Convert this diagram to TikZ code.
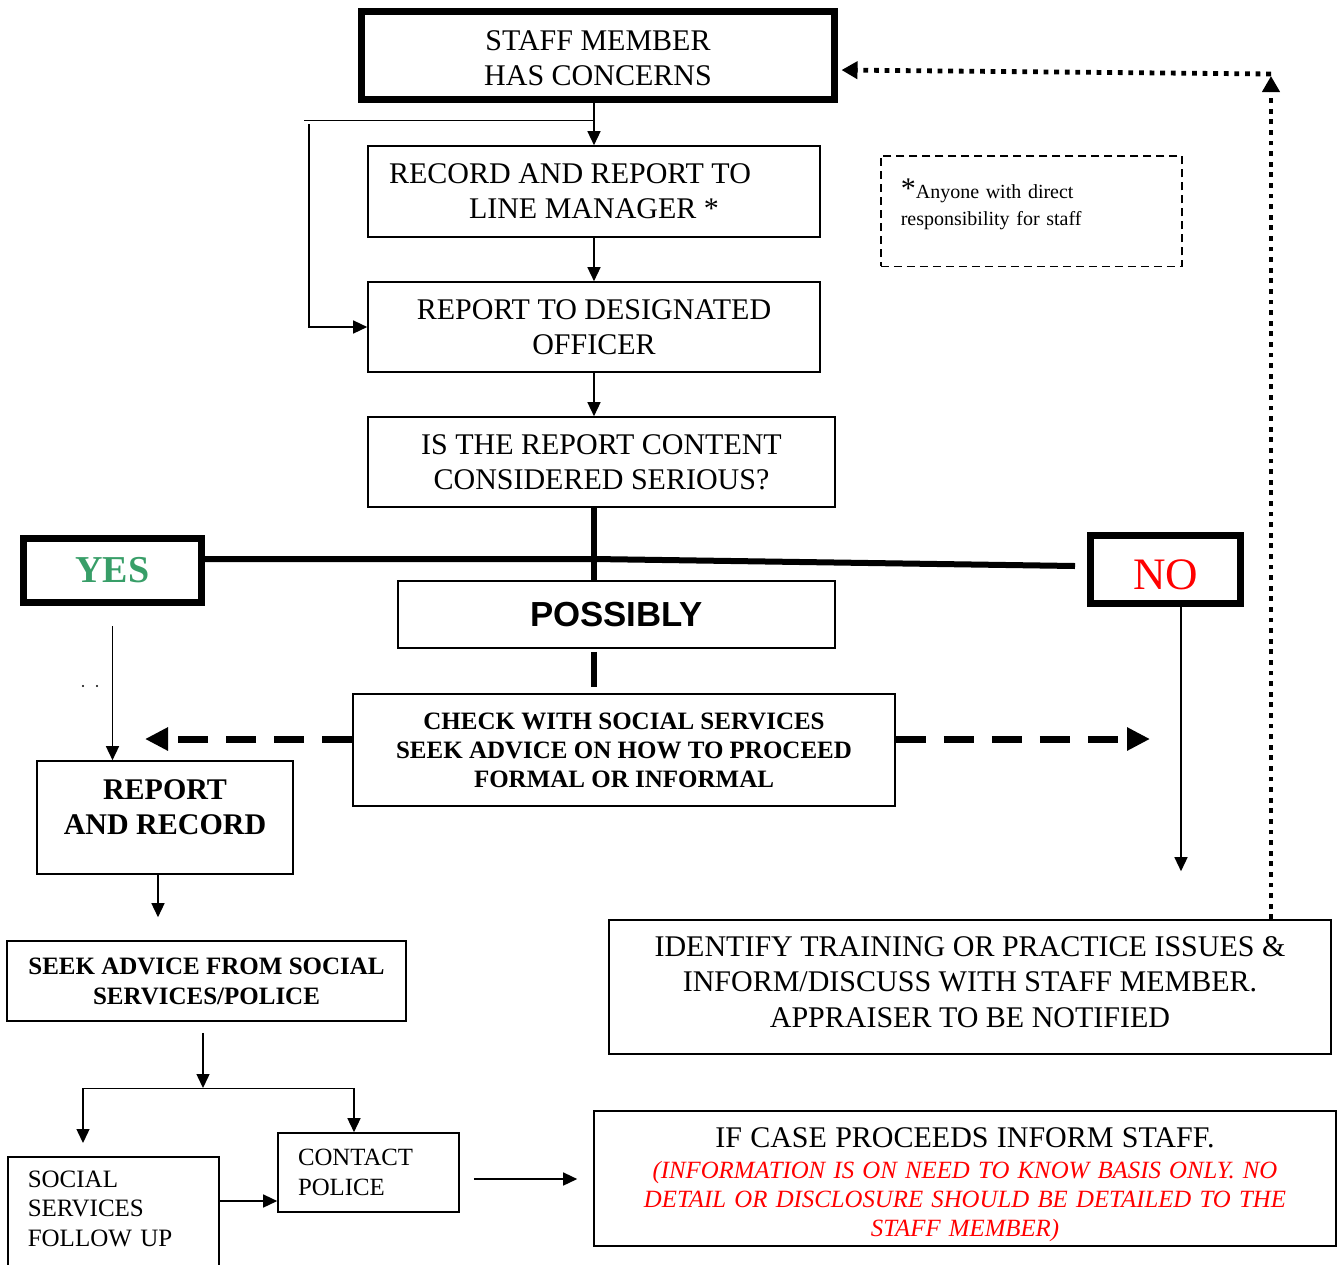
\documentclass[tikz,border=0pt]{standalone}
\usepackage{fontspec}
\setmainfont{Liberation Serif}
\newfontfamily\possfont{Liberation Sans}
\usetikzlibrary{arrows.meta}
\definecolor{yesgreen}{RGB}{56,158,104}

\begin{document}
\begin{tikzpicture}[x=0.5pt, y=-0.5pt,
    boxstyle/.style={draw, line width=0.8pt, align=center, inner sep=0pt, font=\fontsize{15}{17.5}\selectfont},
    boldbox/.style={boxstyle, font=\fontsize{12.5}{14.5}\selectfont\bfseries},
    heavybox/.style={draw, line width=3.5pt, align=center, inner sep=0pt},
    arrowstyle/.style={line width=0.7pt, -{Triangle[length=7pt,width=6.5pt]}},
    thickline/.style={line width=3pt},
    dashedarrow/.style={line width=3.5pt, dash pattern=on 15pt off 9pt, -{Triangle[length=11.5pt,width=11pt]}},
    dottedarrow/.style={line width=2.4pt, dash pattern=on 2.4pt off 2.9pt, -{Triangle[length=8pt,width=8.5pt]}}]
    \useasboundingbox (0,0) rectangle (1338,1264);

    % Boxes down the middle
    \node[heavybox, minimum width=236.5pt, minimum height=44pt, font=\fontsize{15}{17.5}\selectfont] (staff) at (598,55.5) {\rule{0pt}{13pt}STAFF MEMBER\\HAS CONCERNS};
    \node[boxstyle, minimum width=226pt, minimum height=45.5pt] (record) at (594,191.5) {RECORD AND REPORT TO\kern24pt\\LINE MANAGER *};
    \node[boxstyle, minimum width=226pt, minimum height=45pt] (officer) at (594,327) {REPORT TO DESIGNATED\\OFFICER};
    \node[boxstyle, minimum width=233.5pt, minimum height=45pt] (serious) at (601.5,462) {IS THE REPORT CONTENT\\CONSIDERED SERIOUS?};
    \node[boxstyle, minimum width=218.5pt, minimum height=33.5pt, font=\possfont\fontsize{17.4}{20}\selectfont\bfseries] (possibly) at (616.5,614.5) {POSSIBLY};
    \node[boldbox, minimum width=271pt, minimum height=56pt] (check) at (624,750) {CHECK WITH SOCIAL SERVICES\\SEEK ADVICE ON HOW TO PROCEED\\FORMAL OR INFORMAL};

    % Answers
    \node[heavybox, minimum width=89pt, minimum height=32pt, text=yesgreen, font=\fontsize{19}{22}\selectfont\bfseries] (yes) at (112.5,570.5) {YES};
    \node[heavybox, minimum width=75pt, minimum height=34pt, text=red, font=\fontsize{22.5}{26}\selectfont] (no) at (1165.5,569.5) {\rule{0pt}{20pt}NO};

    % Note
    \node[draw, line width=0.8pt, dash pattern=on 4pt off 2.5pt, anchor=north west, text width=130.5pt, inner xsep=10pt, inner ysep=11.5pt, align=left, font=\fontsize{10}{13.5}\selectfont] (note) at (880,155) {{\fontsize{15}{15}\selectfont *}Anyone with direct\\responsibility for staff\rule[-9pt]{0pt}{9pt}};

    % Yes side
    \node[boxstyle, minimum width=128pt, minimum height=56.5pt, font=\fontsize{15}{17.5}\selectfont\bfseries] (report) at (165,817.5) {REPORT\\AND RECORD\rule[-10pt]{0pt}{10pt}};
    \node[boldbox, minimum width=199.5pt, minimum height=40pt, font=\fontsize{12.5}{15}\selectfont\bfseries] (seek) at (206.5,981) {SEEK ADVICE FROM SOCIAL\\SERVICES/POLICE};
    \node[boxstyle, anchor=north west, text width=85.5pt, inner xsep=10pt, inner ysep=7pt, align=left, font=\fontsize{12.5}{14.75}\selectfont] (social) at (7,1156) {SOCIAL\\SERVICES\\FOLLOW UP\rule[-40pt]{0pt}{40pt}};
    \node[boxstyle, text width=70.5pt, inner xsep=10pt, align=left, minimum height=39.5pt, font=\fontsize{12.4}{15}\selectfont] (police) at (368.5,1172.5) {CONTACT\\POLICE};

    % No side
    \node[boxstyle, minimum width=361pt, minimum height=67pt, font=\fontsize{15}{17.75}\selectfont] (identify) at (970,987) {IDENTIFY TRAINING OR PRACTICE ISSUES \&\\INFORM/DISCUSS WITH STAFF MEMBER.\\APPRAISER TO BE NOTIFIED\rule[-5pt]{0pt}{5pt}};
    \node[boxstyle, minimum width=371pt, minimum height=67.5pt, text width=360pt, text=red, font=\fontsize{12.4}{14.5}\selectfont\itshape] (ifcase) at (965,1178.5) {{\upshape\color{black}\fontsize{15}{17.5}\selectfont\rule{0pt}{16pt}IF CASE PROCEEDS INFORM STAFF.}\\[1pt]
        (INFORMATION IS ON NEED TO KNOW BASIS ONLY. NO\\DETAIL OR DISCLOSURE SHOULD BE DETAILED TO THE\\STAFF MEMBER)};

    \coordinate (split) at (594,559);
    \coordinate (nocut) at (1075,566);
    \coordinate (bypass) at (304,120);
    \coordinate (bypasstop) at (309,124);
    \coordinate (leftend) at (145,739);
    \coordinate (rightend) at (1150,739);
    \coordinate (reportdrop) at (158,876);
    \coordinate (seekdrop) at (203,1088);
    \coordinate (branchL) at (83,1088);
    \coordinate (branchR) at (354,1088);
    \coordinate (sideline) at (0,1201);
    \coordinate (tocase) at (0,1179);
    \coordinate (nodrop) at (1181,606);
    \coordinate (loopx) at (1271,0);
    \coordinate (corner) at (1271,74);
    \coordinate (loopend) at (0,70);

    % Main column
    \draw[arrowstyle] (staff.south -| record.north) -- (record.north);
    \draw (record.north |- bypass) -- (bypass);
    \draw[arrowstyle] (bypasstop) |- (officer.west);
    \draw[arrowstyle] (record) -- (officer);
    \draw[arrowstyle] (officer.south) -- (officer.south |- serious.north);
    %%%
    % Heavy lines
    \draw[thickline] (yes.east |- split) -- (split) -- (nocut);
    \draw[thickline] (serious.south -| split) -- (possibly.north -| split);
    \draw[thickline, shorten <=1.5pt, shorten >=3pt] (possibly.south -| split) -- (check.north -| split);
    \draw[dashedarrow] (check.west |- leftend) -- (leftend);
    \draw[dashedarrow] (check.east |- rightend) -- (rightend);
    %%%
    % Yes branch
    \draw[arrowstyle, shorten <=10pt] (yes.south) -- (yes.south |- report.north);
    \fill (83,686) circle (0.6pt) (97,686) circle (0.6pt);
    \draw[arrowstyle, shorten >=11.5pt] (report.south -| reportdrop) -- (seek.north -| reportdrop);
    \draw[arrowstyle, shorten <=5.5pt] (seek.south -| seekdrop) -- (seekdrop);
    \draw (branchL) -- (branchR);
    \draw[arrowstyle, shorten >=6.5pt] (branchL) -- (branchL |- social.north);
    \draw[arrowstyle] (branchR) -- (branchR |- police.north);
    \draw[arrowstyle] (social.east |- sideline) -- (police.west |- sideline);
    \draw[arrowstyle, shorten <=7pt, shorten >=8pt] (police.east |- tocase) -- (ifcase.west |- tocase);
    %%%
    % No branch
    \draw[arrowstyle, shorten >=24pt] (no.south -| nodrop) -- (identify.north -| nodrop);
    \draw[dottedarrow, shorten >=1pt] (identify.north -| loopx) -- (corner);
    \draw[dottedarrow, shorten >=1.75pt] (corner) -- (staff.east |- loopend);
\end{tikzpicture}
\end{document}
